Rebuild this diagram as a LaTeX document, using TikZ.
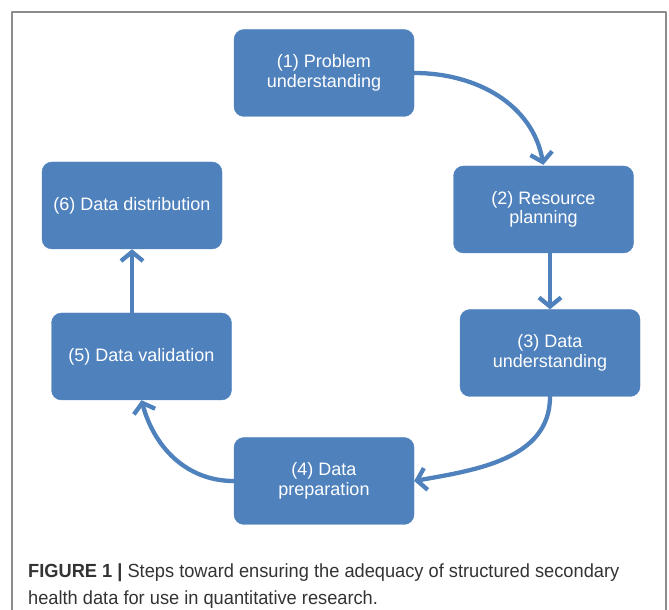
\documentclass[tikz,border=0pt]{standalone}
\usepackage{fontspec}
\setmainfont{Liberation Sans}
\newfontfamily\capfont[FakeStretch=0.96]{Liberation Sans}
\usetikzlibrary{arrows.meta}
\definecolor{stepblue}{HTML}{4F81BD}
\definecolor{framegray}{HTML}{8C8C8C}
\definecolor{captext}{HTML}{333333}
\begin{document}
\begin{tikzpicture}[x=1pt,y=1pt,line join=round,line cap=round,>={Straight Barb[length=9pt,width=22pt,line width'=4.3pt]}]
            \tikzset{stepbox/.style={fill=stepblue,draw=stepblue,rounded corners=10pt,minimum width=\bw pt,minimum height=\bh pt,inner sep=2pt,text=white,align=center,font=\fontsize{18}{19.5}\selectfont}}
            \tikzset{flow/.style={->,draw=stepblue,line width=4.3pt}}
            %%Kích thước hộp
            \def \bw{180}
            \def \bh{87}
            \useasboundingbox (0,0) rectangle (669,610);
            \draw[framegray,line width=1.2pt,line cap=butt] (12,-1)--(12,598)--(666,598)--(666,-1);
            %%Các bước
            \node[stepbox] (prob) at (324,537) {(1) Problem\\understanding};
            \node[stepbox] (res) at (543.5,400.5) {(2) Resource\\planning};
            \node[stepbox] (dund) at (550,257) {(3) Data\\understanding};
            \node[stepbox] (prep) at (324,129) {(4) Data\\preparation};
            \node[stepbox] (valid) at (141.5,253.5) {(5) Data validation};
            \node[stepbox] (dist) at (132,404.5) {(6) Data distribution};
            %%Mũi tên
            \draw[flow,shorten >=1pt] (prob.east) to[out=0,in=100] (res.north);
            \draw[flow] (res.south -| dund.north) -- (dund.north);
            \draw[flow] (dund.south) to[out=-90,in=10] (prep.east);
            \draw[flow] (prep.west) to[out=180,in=-75] (valid.south);
            \draw[flow] (valid.north -| dist.south) -- (dist.south);
            \node[anchor=base west,inner sep=0pt,align=left,text=captext,font=\capfont\fontsize{19}{28}\selectfont] (cap) at (28,5)
                {{\bfseries FIGURE 1 |} Steps toward ensuring the adequacy of structured secondary\\health data for use in quantitative research.};
        \end{tikzpicture}
\end{document}
